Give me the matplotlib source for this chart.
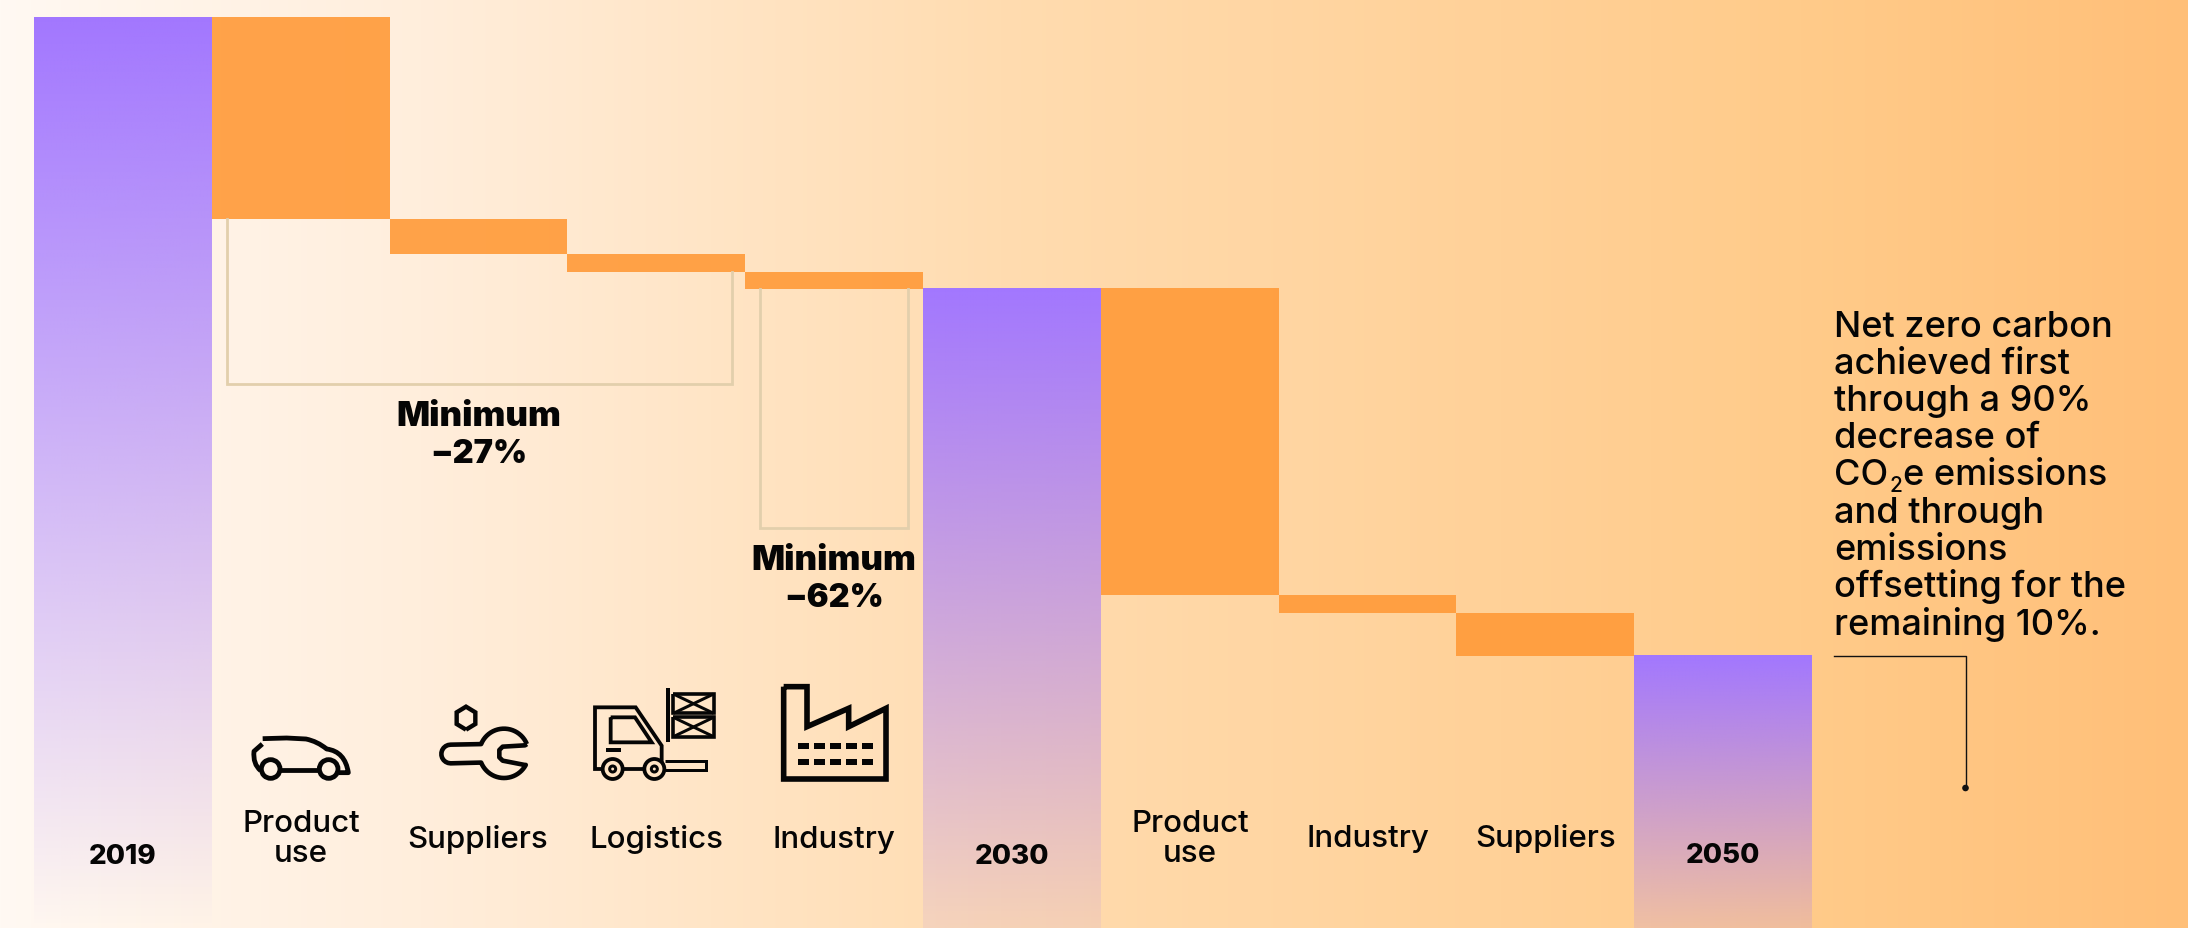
"""Stepped CO2e reduction chart, 2019 to 2050, with a waterfall of contributions."""

import numpy as np
import matplotlib
matplotlib.use("Agg")
import matplotlib.pyplot as plt
from matplotlib.patches import Circle, PathPatch, Rectangle
from matplotlib.path import Path

# emissions index, 2019 = 100
categories = ["2019", "Product\nuse", "Suppliers", "Logistics", "Industry",
              "2030", "Product\nuse", "Industry", "Suppliers", "2050"]
totals = {0: 100.0, 5: 70.25, 9: 29.86}
steps = {1: 22.17, 2: 3.85, 3: 1.98, 4: 1.87, 6: 33.7, 7: 1.98, 8: 4.71}
fade_end = {0: 0.0, 5: 0.1, 9: 0.16}

note_lines = ["Net zero carbon", "achieved first", "through a 90%", "decrease of",
              None, "and through", "emissions", "offsetting for the", "remaining 10%."]

W, H = 2188, 929
FONT = "Inter"
INK = "#050505"
PURPLE = (0xA2 / 255, 0x77 / 255, 1.0)

fig = plt.figure(figsize=(W / 100, H / 100), dpi=100)

# horizontal page gradient
bg = fig.add_axes([0, 0, 1, 1], zorder=0)
stops_x = [0, 60, 420, 1000, 1500, 1800, 2188]
stops_rgb = np.array([[255, 249, 243], [255, 247, 239], [255, 238, 220],
                      [255, 220, 176], [255, 209, 152], [255, 203, 138], [255, 191, 120]]) / 255
xs = np.arange(W)
grad = np.stack([np.interp(xs, stops_x, stops_rgb[:, i]) for i in range(3)], axis=-1)
bg.imshow(grad[None, :, :], extent=(0, W, 0, 1), aspect="auto")
bg.set_axis_off()

# value axes for the bars
ax = fig.add_axes([34 / W, 0, (1812 - 34) / W, 1], zorder=1)
ax.patch.set_alpha(0)
ax.set_axis_off()

level = None
for i, name in enumerate(categories):
    if i in totals:
        level = totals[i]
        ramp = np.zeros((256, 1, 4))
        ramp[..., :3] = PURPLE
        ramp[:, 0, 3] = np.linspace(1.0, fade_end[i], 256)
        ax.imshow(ramp, extent=(i - 0.5, i + 0.5, 0, level), aspect="auto",
                  interpolation="bilinear", zorder=2)
    else:
        ax.bar(i, steps[i], bottom=level - steps[i], width=1.0,
               color="#FF9A38", alpha=0.9, linewidth=0, zorder=3)
        level -= steps[i]

ax.set_xlim(-0.5, 9.5)
ax.set_ylim(0, H / 9.11)

# pixel-space layer for brackets, icons and text
top = fig.add_axes([0, 0, 1, 1], zorder=2)
top.set_xlim(0, W)
top.set_ylim(H, 0)
top.set_axis_off()
top.patch.set_alpha(0)

# minimum-reduction brackets
BRACKET = dict(color="#E2CFAC", lw=2.0, solid_joinstyle="miter", zorder=1)
top.plot([227, 227, 732, 732], [220, 385, 385, 273], **BRACKET)
top.plot([760, 760, 908, 908], [290, 529, 529, 290], **BRACKET)


def label(x, y, s, size=22.5, weight=500, ha="center"):
    top.text(x, y, s, fontsize=size, fontweight=weight, family=FONT, color=INK,
             ha=ha, va="baseline", zorder=5)


label(479, 426, "Minimum", 25, 900)
label(479, 463, "−27%", 23.5, 900)
label(834, 570, "Minimum", 25, 900)
label(834, 607, "−62%", 23.5, 900)

label(122.5, 864, "2019", 20, 800)
label(1012, 864, "2030", 20, 800)
label(1723, 863, "2050", 20, 800)

label(301, 832, "Product")
label(301, 862, "use")
label(478, 848, "Suppliers")
label(656, 848, "Logistics")
label(834, 848, "Industry")
label(1190, 832, "Product")
label(1190, 862, "use")
label(1368, 847, "Industry")
label(1545.5, 847, "Suppliers")

# note on the right, set line by line
baselines = [336.5, 373.5, 411, 448, 485, 523, 560, 597, 635]
for y, line in zip(baselines, note_lines):
    if line:
        label(1834, y, line, 26, 500, ha="left")
label(1834, 485, "CO", 26, 500, ha="left")
label(1889.5, 491.5, "2", 15, 500, ha="left")
label(1903, 485, "e emissions", 26, 500, ha="left")

top.plot([1834, 1965.5, 1965.5], [656.5, 656.5, 789], color="#111111", lw=1.0, zorder=4)
top.add_patch(Circle((1965.5, 789), 2.6, color="#111111", zorder=4))


# icons are drawn in pixel space; points below come in 1/3 px around an origin
def stroke(pts, ox, oy, lw, codes=None, closed=False, cap="butt", join="miter"):
    pts = np.asarray(pts, dtype=float) / 3 + (ox, oy)
    if closed:
        pts = np.vstack([pts, pts[0]])
    if codes is None:
        codes = [Path.MOVETO] + [Path.LINETO] * (len(pts) - 1)
    top.add_patch(PathPatch(Path(pts, codes), fc="none", ec=INK, lw=lw * 0.72,
                            capstyle=cap, joinstyle=join, zorder=4))


def ring(cx, cy, r, ox, oy, lw, fc="none"):
    top.add_patch(Circle((cx / 3 + ox, cy / 3 + oy), r / 3, fc=fc, ec=INK,
                         lw=lw * 0.72, zorder=4))


def block(x0, y0, x1, y1, ox, oy):
    top.add_patch(Rectangle((x0 / 3 + ox, y0 / 3 + oy), (x1 - x0) / 3, (y1 - y0) / 3,
                            fc=INK, ec="none", zorder=4))


def arc(cx, cy, r, a0, a1, n=24):
    t = np.radians(np.linspace(a0, a1, n))
    return np.column_stack([cx + r * np.cos(t), cy - r * np.sin(t)])


# car
CX, CY = 230, 715
C3 = Path.CURVE3
stroke([(98, 74), (170, 72), (228, 75), (262, 82), (290, 105), (345, 112), (355, 176), (326, 176)],
       CX, CY, 4.8, codes=[Path.MOVETO, Path.LINETO, Path.LINETO, C3, C3, C3, C3, Path.LINETO],
       join="round")
stroke([(97, 90), (72, 112), (68, 150), (92, 170)], CX, CY, 4.8,
       codes=[Path.MOVETO, Path.LINETO, C3, C3], join="round")
stroke([(150, 168), (268, 168)], CX, CY, 4.8)
ring(122, 165, 28, CX, CY, 4.8)
ring(296, 165, 28, CX, CY, 4.8)

# wrench with hex nut
WX, WY = 230, 715
stroke([(708, 47), (680, 30), (680, -5), (708, -22), (736, -5), (736, 30)], WX, WY, 4.4, closed=True)
head_top = arc(822, 118, 74, 22, 158)
nose = arc(662, 120, 28, 90, 270, 12)
head_bot = arc(822, 118, 74, 202, 332)
jaw = [(885, 153), (818, 140), (808, 130), (808, 108), (818, 98), (885, 94)]
stroke(np.vstack([head_top, nose, head_bot, jaw]), WX, WY, 4.6, closed=True, join="round")

# forklift
FX, FY = 570, 675
stroke([(100, 285), (75, 285), (75, 100), (197, 100), (275, 215), (275, 285)], FX, FY, 3.8)
stroke([(160, 285), (222, 285)], FX, FY, 3.8)
stroke([(122, 130), (195, 130), (245, 205), (122, 205)], FX, FY, 3.8, closed=True)
block(108, 223, 153, 234, FX, FY)
for wx in (128, 253):
    ring(wx, 285, 30, FX, FY, 3.8, fc="#FFE4C4")
    ring(wx, 285, 9, FX, FY, 3.0)
stroke([(285, 260), (408, 260), (408, 287), (285, 287)], FX, FY, 3.0)
block(288, 42, 300, 203, FX, FY)
for y0, y1 in ((60, 118), (130, 188)):
    stroke([(310, y0), (431, y0), (431, y1), (310, y1)], FX, FY, 3.6, closed=True)
    stroke([(310, y0), (431, y1)], FX, FY, 3.0)
    stroke([(310, y1), (431, y0)], FX, FY, 3.0)

# factory
PX, PY = 570, 675
stroke([(641, 38), (711, 38), (711, 158), (836, 103), (836, 158), (948, 103), (948, 315), (641, 315)],
       PX, PY, 5.6, closed=True)
for row in (215, 263):
    for d in (684, 732, 780, 828, 876):
        block(d, row - 9, d + 32, row + 9, PX, PY)

fig.savefig("out.png", dpi=100)
